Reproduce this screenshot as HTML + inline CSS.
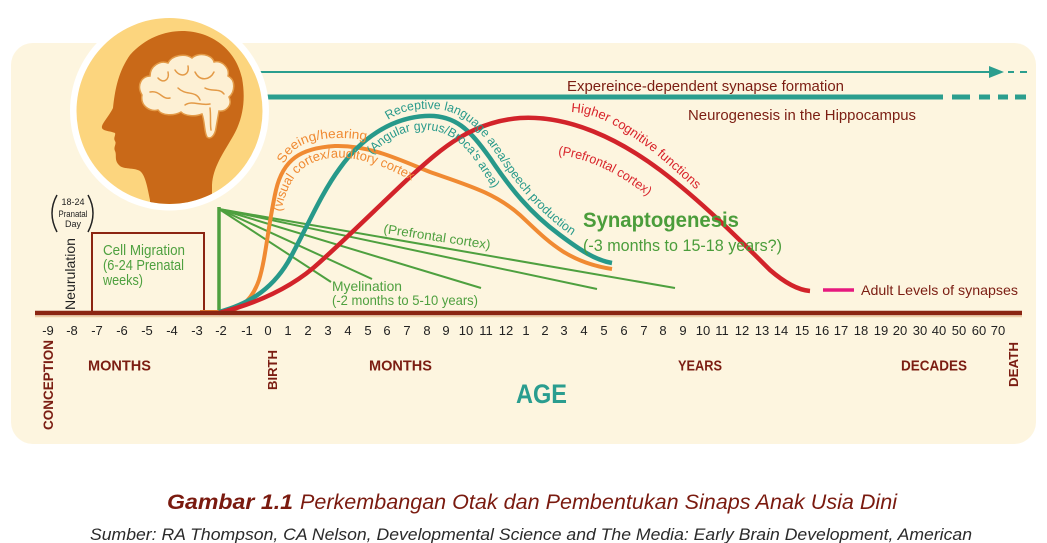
<!DOCTYPE html>
<html>
<head>
<meta charset="utf-8">
<style>
  html,body{margin:0;padding:0;background:#ffffff;}
  svg{display:block;}
  text{font-family:"Liberation Sans", sans-serif;}
</style>
</head>
<body>
<svg width="1047" height="543" viewBox="0 0 1047 543" xmlns="http://www.w3.org/2000/svg">
  <defs>
    <clipPath id="circ"><circle cx="169.5" cy="111" r="93"/></clipPath>
    <path id="p1" d="M 284,164 C 292,146 310,138 340,138 C 355,138 368,140 380,144"/>
    <path id="p2" d="M 281,212 C 288,180 300,162 330,158 C 360,155 390,168 425,188"/>
    <path id="p3" d="M 388,120 C 400,112 412,109 425,109 C 458,107 476,124 496,154 C 516,184 535,208 564,230 C 584,244 598,254 614,257"/>
    <path id="p4" d="M 372,155 C 390,135 408,130 425,130 C 445,130 462,140 478,165 C 488,180 495,192 502,202"/>
    <path id="p5" d="M 571,112 C 595,113 615,124 640,142 C 660,156 685,180 708,200"/>
    <path id="p6" d="M 558,155 C 585,158 615,170 650,198"/>
    <path id="p7" d="M 383,233 L 495,250"/>
  </defs>

  <!-- panel -->
  <rect x="11" y="43" width="1025" height="401" rx="22" ry="22" fill="#fdf5df"/>

  <!-- top lines -->
  <line x1="200" y1="72" x2="992" y2="72" stroke="#2b9e8e" stroke-width="2"/>
  <polygon points="989,66 1004,72 989,78" fill="#2b9e8e"/>
  <line x1="1008" y1="72" x2="1014" y2="72" stroke="#2b9e8e" stroke-width="2"/>
  <line x1="1020" y1="72" x2="1027" y2="72" stroke="#2b9e8e" stroke-width="2"/>
  <line x1="200" y1="97" x2="943" y2="97" stroke="#2b9e8e" stroke-width="5"/>
  <line x1="952" y1="97" x2="970" y2="97" stroke="#2b9e8e" stroke-width="5"/>
  <line x1="979" y1="97" x2="990" y2="97" stroke="#2b9e8e" stroke-width="5"/>
  <line x1="998" y1="97" x2="1008" y2="97" stroke="#2b9e8e" stroke-width="5"/>
  <line x1="1015" y1="97" x2="1026" y2="97" stroke="#2b9e8e" stroke-width="5"/>

  <text x="567" y="91" font-size="15" fill="#7b1d12" textLength="277" lengthAdjust="spacingAndGlyphs">Expereince-dependent synapse formation</text>
  <text x="688" y="120" font-size="15" fill="#7b1d12" textLength="228" lengthAdjust="spacingAndGlyphs">Neurogenesis in the Hippocampus</text>

  <!-- head icon -->
  <circle cx="169.5" cy="111" r="99.5" fill="#ffffff"/>
  <circle cx="169.5" cy="111" r="93" fill="#fcd57e"/>
  <g clip-path="url(#circ)">
    <path d="M 113,108 C 115,90 118,72 130,55 C 145,38 165,31 182,31 C 212,31 236,50 242,78 C 246,100 243,120 232,138 C 222,155 213,168 212,185 L 212,215 L 150,215 L 150,200 C 147,185 145,175 140,171 C 133,167 123,170 119,165 C 114,160 117,155 115,151 C 113,147 117,144 115,141 C 113,138 116,135 115,133 C 110,131 103,131 102,128 C 101,124 108,118 113,108 Z" fill="#c96918"/>
  </g>
  <!-- brain -->
  <path d="M 142,95 C 136,85 142,76 150,76 C 150,66 160,60 168,63 C 172,55 185,53 192,58 C 198,52 212,54 214,62 C 222,60 230,68 228,76 C 236,80 235,92 229,97 C 233,105 226,112 219,111 L 216,128 C 215,136 210,140 207,137 C 204,132 205,122 202,114 C 195,117 185,116 181,112 C 174,116 162,116 158,110 C 150,112 140,106 142,95 Z" fill="#fdf0d4" stroke="#e39a47" stroke-width="1.5"/>
  <g fill="none" stroke="#e39a47" stroke-width="1.5" stroke-linecap="round">
    <path d="M 158,78 C 163,84 170,80 168,72"/>
    <path d="M 175,70 C 180,78 190,76 188,66"/>
    <path d="M 195,72 C 200,82 210,80 214,72"/>
    <path d="M 150,92 C 160,90 162,100 170,98"/>
    <path d="M 178,88 C 186,96 196,90 200,100"/>
    <path d="M 205,88 C 212,92 220,88 224,94"/>
    <path d="M 185,105 C 192,100 200,106 210,104"/>
    <path d="M 210,108 C 211,116 210,124 211,130"/>
  </g>

  <!-- neurulation area -->
  <path d="M 57,195 Q 47,213 57,232" fill="none" stroke="#222" stroke-width="1.5"/>
  <path d="M 88,195 Q 98,213 88,232" fill="none" stroke="#222" stroke-width="1.5"/>
  <text x="73" y="205" font-size="9" fill="#222" text-anchor="middle">18-24</text>
  <text x="73" y="217" font-size="9" fill="#222" text-anchor="middle" textLength="29" lengthAdjust="spacingAndGlyphs">Pranatal</text>
  <text x="73" y="227" font-size="9" fill="#222" text-anchor="middle">Day</text>
  <text transform="translate(75,310) rotate(-90)" font-size="14" fill="#222" textLength="72" lengthAdjust="spacingAndGlyphs">Neurulation</text>

  <!-- cell migration box -->
  <rect x="92" y="233" width="112" height="79" fill="none" stroke="#8b2512" stroke-width="2"/>
  <text x="103" y="255" font-size="15" fill="#4ea03f" textLength="82" lengthAdjust="spacingAndGlyphs">Cell Migration</text>
  <text x="103" y="270" font-size="15" fill="#4ea03f" textLength="81" lengthAdjust="spacingAndGlyphs">(6-24 Prenatal</text>
  <text x="103" y="285" font-size="15" fill="#4ea03f" textLength="40" lengthAdjust="spacingAndGlyphs">weeks)</text>

  <!-- green myelination fan -->
  <g stroke="#4ea03f" stroke-width="2" fill="none">
    <line x1="219" y1="209" x2="675" y2="288"/>
    <line x1="219" y1="209" x2="597" y2="289"/>
    <line x1="219" y1="209" x2="481" y2="288"/>
    <line x1="219" y1="209" x2="372" y2="279"/>
    <line x1="219" y1="209" x2="331" y2="282"/>
  </g>
  <line x1="219" y1="207" x2="219" y2="313" stroke="#4ea03f" stroke-width="3.5"/>

  <!-- curves -->
  <path d="M 200,312 L 222,312 C 240,311 252,300 259,280 C 266,258 268,225 276,190 C 283,160 300,148 335,146 C 370,145 400,160 430,172 C 470,186 495,193 520,215 C 545,238 565,262 612,269" fill="none" stroke="#f08a32" stroke-width="4"/>
  <path d="M 219,312 C 245,305 270,292 288,262 C 305,232 320,195 340,168 C 360,140 390,118 425,116 C 455,114 470,130 490,158 C 510,188 530,213 560,235 C 580,250 595,260 612,263" fill="none" stroke="#27998a" stroke-width="4.5"/>
  <path d="M 219,313 C 250,305 290,290 320,262 C 350,235 380,205 410,177 C 440,150 470,122 520,118 C 570,115 620,140 660,170 C 700,200 740,240 770,270 C 785,283 798,290 810,291" fill="none" stroke="#d2232a" stroke-width="4.5"/>

  <!-- curve labels -->
  <text font-size="13" fill="#f08a32"><textPath href="#p1" textLength="92" lengthAdjust="spacingAndGlyphs">Seeing/hearing</textPath></text>
  <text font-size="13" fill="#f08a32"><textPath href="#p2" textLength="165" lengthAdjust="spacingAndGlyphs">(visual cortex/auditory cortex</textPath></text>
  <text font-size="12.5" fill="#27998a"><textPath href="#p3" textLength="240" lengthAdjust="spacingAndGlyphs">Receptive language area/speech production</textPath></text>
  <text font-size="12.5" fill="#27998a"><textPath href="#p4" textLength="155" lengthAdjust="spacingAndGlyphs">(Angular gyrus/Broca's area)</textPath></text>
  <text font-size="13" fill="#d8232a"><textPath href="#p5" textLength="150" lengthAdjust="spacingAndGlyphs">Higher cognitive functions</textPath></text>
  <text font-size="13" fill="#d8232a"><textPath href="#p6" textLength="100" lengthAdjust="spacingAndGlyphs">(Prefrontal cortex)</textPath></text>
  <text font-size="13" fill="#4ea03f"><textPath href="#p7" textLength="108" lengthAdjust="spacingAndGlyphs">(Prefrontal cortex)</textPath></text>

  <text x="332" y="291" font-size="14" fill="#4ea03f" textLength="70" lengthAdjust="spacingAndGlyphs">Myelination</text>
  <text x="332" y="305" font-size="14" fill="#4ea03f" textLength="146" lengthAdjust="spacingAndGlyphs">(-2 months to 5-10 years)</text>

  <text x="583" y="227" font-size="21" font-weight="bold" fill="#4b9d3b" textLength="156" lengthAdjust="spacingAndGlyphs">Synaptogenesis</text>
  <text x="583" y="251" font-size="17" fill="#4b9d3b" textLength="199" lengthAdjust="spacingAndGlyphs">(-3 months to 15-18 years?)</text>

  <!-- adult levels -->
  <line x1="823" y1="290" x2="854" y2="290" stroke="#e6197f" stroke-width="3.5"/>
  <text x="861" y="295" font-size="14" fill="#7b1d12" textLength="157" lengthAdjust="spacingAndGlyphs">Adult Levels of synapses</text>

  <!-- axis -->
  <line x1="35" y1="316.5" x2="1022" y2="316.5" stroke="#efcfa6" stroke-width="1.5"/>
  <line x1="35" y1="313" x2="1022" y2="313" stroke="#8b2512" stroke-width="4.5"/>

  <g font-size="13" fill="#222" text-anchor="middle">
    <text x="48" y="335">-9</text>
    <text x="72" y="335">-8</text>
    <text x="97" y="335">-7</text>
    <text x="122" y="335">-6</text>
    <text x="147" y="335">-5</text>
    <text x="172" y="335">-4</text>
    <text x="197" y="335">-3</text>
    <text x="221" y="335">-2</text>
    <text x="247" y="335">-1</text>
    <text x="268" y="335">0</text>
    <text x="288" y="335">1</text>
    <text x="308" y="335">2</text>
    <text x="328" y="335">3</text>
    <text x="348" y="335">4</text>
    <text x="368" y="335">5</text>
    <text x="387" y="335">6</text>
    <text x="407" y="335">7</text>
    <text x="427" y="335">8</text>
    <text x="446" y="335">9</text>
    <text x="466" y="335">10</text>
    <text x="486" y="335">11</text>
    <text x="506" y="335">12</text>
    <text x="526" y="335">1</text>
    <text x="545" y="335">2</text>
    <text x="564" y="335">3</text>
    <text x="584" y="335">4</text>
    <text x="604" y="335">5</text>
    <text x="624" y="335">6</text>
    <text x="644" y="335">7</text>
    <text x="663" y="335">8</text>
    <text x="683" y="335">9</text>
    <text x="703" y="335">10</text>
    <text x="722" y="335">11</text>
    <text x="742" y="335">12</text>
    <text x="762" y="335">13</text>
    <text x="781" y="335">14</text>
    <text x="802" y="335">15</text>
    <text x="822" y="335">16</text>
    <text x="841" y="335">17</text>
    <text x="861" y="335">18</text>
    <text x="881" y="335">19</text>
    <text x="900" y="335">20</text>
    <text x="920" y="335">30</text>
    <text x="939" y="335">40</text>
    <text x="959" y="335">50</text>
    <text x="979" y="335">60</text>
    <text x="998" y="335">70</text>
  </g>

  <g font-weight="bold" fill="#7b1d12">
    <text transform="translate(53,430) rotate(-90)" font-size="14" textLength="90" lengthAdjust="spacingAndGlyphs">CONCEPTION</text>
    <text transform="translate(277,390) rotate(-90)" font-size="13" textLength="40" lengthAdjust="spacingAndGlyphs">BIRTH</text>
    <text transform="translate(1018,387) rotate(-90)" font-size="13" textLength="45" lengthAdjust="spacingAndGlyphs">DEATH</text>
    <text x="88" y="370.5" font-size="15" textLength="63" lengthAdjust="spacingAndGlyphs">MONTHS</text>
    <text x="369" y="370.5" font-size="15" textLength="63" lengthAdjust="spacingAndGlyphs">MONTHS</text>
    <text x="678" y="370.5" font-size="15" textLength="44" lengthAdjust="spacingAndGlyphs">YEARS</text>
    <text x="901" y="370.5" font-size="15" textLength="66" lengthAdjust="spacingAndGlyphs">DECADES</text>
  </g>
  <text x="516" y="403" font-size="27" font-weight="bold" fill="#2a9d8f" textLength="51" lengthAdjust="spacingAndGlyphs">AGE</text>

  <!-- caption -->
  <text x="167" y="509" font-size="21" font-weight="bold" font-style="italic" fill="#7a1a0f" textLength="126" lengthAdjust="spacingAndGlyphs">Gambar 1.1</text>
  <text x="300" y="509" font-size="21" font-style="italic" fill="#7a1a0f" textLength="597" lengthAdjust="spacingAndGlyphs">Perkembangan Otak dan Pembentukan Sinaps Anak Usia Dini</text>
  <text x="90" y="540" font-size="17" font-style="italic" fill="#2a2a2a" textLength="882" lengthAdjust="spacingAndGlyphs">Sumber: RA Thompson, CA Nelson, Developmental Science and The Media: Early Brain Development, American</text>
</svg>
</body>
</html>
